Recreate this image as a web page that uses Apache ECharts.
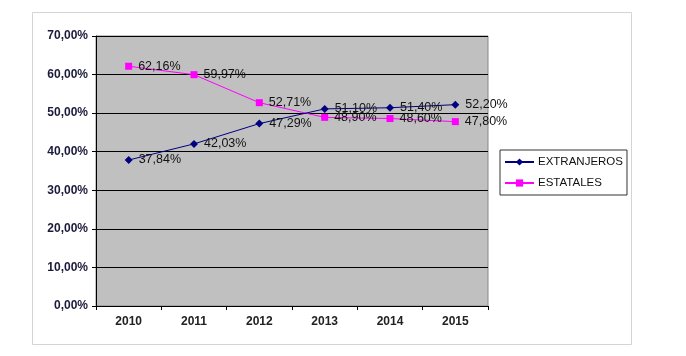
<!DOCTYPE html>
<html><head><meta charset="utf-8">
<script src="https://cdn.jsdelivr.net/npm/echarts@6/dist/echarts.min.js"></script>
<style>html,body{margin:0;padding:0;background:#fff}#c{width:686px;height:356px}</style>
</head><body><div id="c"></div>
<script>
const categories = ['2010','2011','2012','2013','2014','2015'];
const extranjeros = [37.84, 42.03, 47.29, 51.10, 51.40, 52.20];
const estatales = [62.16, 59.97, 52.71, 48.90, 48.60, 47.80];
const seriesNames = ['EXTRANJEROS','ESTATALES'];
const fmt = v => v.toFixed(2).replace('.', ',') + '%';
const chart = echarts.init(document.getElementById('c'), null, {renderer:'canvas'});
const labelStyle = {show:true, position:'right', distance:6, formatter:p=>fmt(p.value), fontFamily:'Liberation Sans, Arial', fontSize:12.5, color:'#111'};
chart.setOption({
  animation:false,
  backgroundColor:'#fff',
  graphic:[{type:'rect', shape:{x:32.5,y:12.5,width:599,height:332}, style:{fill:'none', stroke:'#d4d4d4', lineWidth:1}, z:-1}],
  grid:{left:96, top:36, width:392, height:270, show:true, backgroundColor:'#c0c0c0', borderColor:'#888', borderWidth:1},
  legend:{orient:'vertical', left:500, top:150, padding:[6,4,6,4], itemGap:9, itemWidth:29, itemHeight:9,
    borderColor:'#333', borderWidth:1, backgroundColor:'#fff',
    textStyle:{fontFamily:'Liberation Sans, Arial', fontSize:11.5, color:'#111', padding:[0,0,0,-1]},
    data:seriesNames},
  xAxis:{type:'category', data:categories, boundaryGap:true,
    axisLine:{lineStyle:{color:'#000'}}, axisTick:{show:true, length:4, lineStyle:{color:'#000'}},
    axisLabel:{fontFamily:'Liberation Sans, Arial', fontSize:12, fontWeight:'bold', color:'#222', margin:10}},
  yAxis:{type:'value', min:0, max:70, interval:10,
    axisLine:{show:true, lineStyle:{color:'#000'}}, axisTick:{show:true, length:4, lineStyle:{color:'#000'}},
    splitLine:{lineStyle:{color:'#000', width:1}},
    axisLabel:{formatter:v=>fmt(v), fontFamily:'Liberation Sans, Arial', fontSize:12, fontWeight:'bold', color:'#1a1a3a', margin:8}},
  series:[
    {name:seriesNames[0], type:'line', data:extranjeros, symbol:'diamond', symbolSize:8,
     lineStyle:{color:'#000080', width:1}, itemStyle:{color:'#000080'}, label:labelStyle, z:3},
    {name:seriesNames[1], type:'line', data:estatales, symbol:'rect', symbolSize:7,
     lineStyle:{color:'#ff00ff', width:1}, itemStyle:{color:'#ff00ff'}, label:labelStyle, z:2}
  ]
});
</script></body></html>
